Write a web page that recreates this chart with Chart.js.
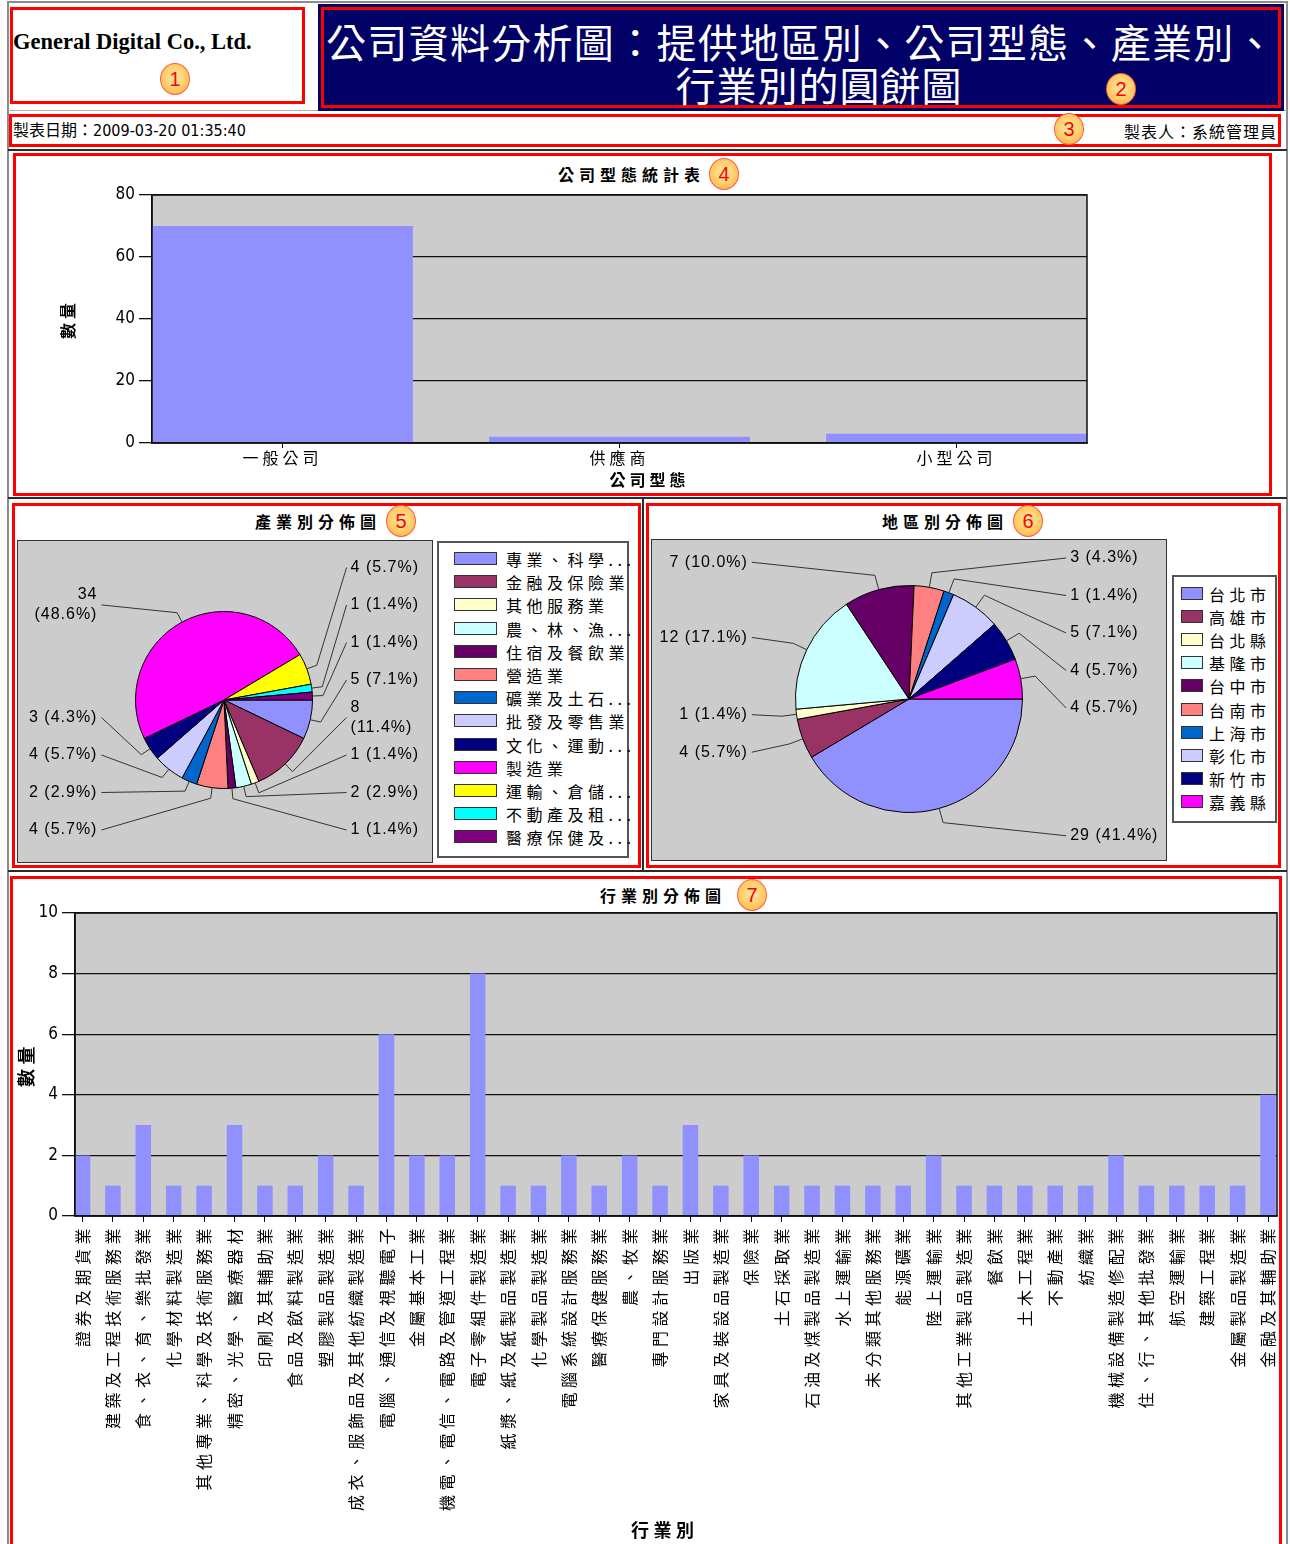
<!DOCTYPE html>
<html><head><meta charset="utf-8">
<script src="https://cdn.jsdelivr.net/npm/chart.js@4.4.0/dist/chart.umd.min.js"></script>
<style>
html,body{margin:0;padding:0;background:#fff;width:1290px;height:1544px;overflow:hidden;}
body{position:relative;font-family:"Noto Sans CJK TC",sans-serif;color:#000;}
.abs{position:absolute;box-sizing:border-box;}
.red{position:absolute;box-sizing:border-box;border:3px solid #ff0000;}
.line{position:absolute;background:#2a2a2a;}
.num{position:absolute;width:30px;height:32px;margin-left:-15px;margin-top:-16px;border-radius:50%;
 background:radial-gradient(circle at 50% 45%,#ffe7a8 0%,#ffcc66 55%,#f7a94a 100%);border:1px solid #ff5a3c;
 color:#ff0000;font:20px "Liberation Sans",sans-serif;text-align:center;line-height:30px;box-sizing:border-box;}
.ttl{position:absolute;font:bold 16px "Noto Sans CJK TC";letter-spacing:5px;white-space:nowrap;line-height:20px;}
.legend{position:absolute;box-sizing:border-box;background:#fff;border:2px solid #555;}
.legend .sw{position:absolute;box-sizing:border-box;border:1px solid #333;}
.legend .tx{position:absolute;font:16px "Noto Sans CJK TC";letter-spacing:4.5px;white-space:nowrap;line-height:20px;}
.piebox{position:absolute;box-sizing:border-box;background:#cccccc;border:1px solid #333;}
canvas{position:absolute;}
</style></head>
<body>
<!-- frame -->
<div class="abs" style="left:7px;top:1px;width:1281px;height:1560px;border:2px solid #8c8c8c;"></div>
<div class="abs" style="left:8px;top:110px;width:1279px;height:1px;background:#b0b0b0;"></div>
<div class="line" style="left:8px;top:149px;width:1279px;height:2px;"></div>
<div class="line" style="left:8px;top:497px;width:1279px;height:2px;"></div>
<div class="line" style="left:8px;top:870px;width:1279px;height:2px;"></div>
<div class="line" style="left:642px;top:498px;width:2px;height:373px;"></div>

<!-- header -->
<div class="red" style="left:10px;top:7px;width:295px;height:97px;"></div>
<div class="abs" style="left:13px;top:29px;font:bold 22.5px 'Liberation Serif',serif;white-space:nowrap;">General Digital Co., Ltd.</div>
<div class="num" style="left:175px;top:79px;">1</div>

<div class="abs" style="left:318px;top:4px;width:966px;height:107px;background:#000066;"></div>
<div class="red" style="left:321px;top:7px;width:960px;height:101px;"></div>
<div class="abs" style="left:321px;top:20px;width:960px;text-align:center;color:#fff;font:40px 'Noto Sans CJK TC';line-height:43px;letter-spacing:1.3px;white-space:nowrap;">公司資料分析圖：提供地區別、公司型態、產業別、</div>
<div class="abs" style="left:339px;top:63px;width:960px;text-align:center;color:#fff;font:40px 'Noto Sans CJK TC';line-height:43px;letter-spacing:1px;white-space:nowrap;">行業別的圓餅圖</div>
<div class="num" style="left:1121px;top:89px;">2</div>

<div class="red" style="left:9px;top:114px;width:1272px;height:33px;"></div>
<div class="abs" style="left:13px;top:121px;font:16px 'Liberation Sans Narrow','DejaVu Sans Condensed','Noto Sans CJK TC';line-height:20px;white-space:nowrap;">製表日期：2009-03-20 01:35:40</div>
<div class="abs" style="left:900px;top:121px;width:377px;text-align:right;font:16px 'Noto Sans CJK TC';line-height:20px;letter-spacing:1px;white-space:nowrap;">製表人：系統管理員</div>
<div class="num" style="left:1069px;top:129px;">3</div>

<!-- chart 4 -->
<div class="red" style="left:13px;top:153px;width:1259px;height:343px;"></div>
<div class="ttl" style="left:558px;top:164px;">公司型態統計表</div>
<div class="num" style="left:724px;top:174px;">4</div>
<canvas id="c4" width="1252" height="309" style="left:16px;top:183px;"></canvas>

<!-- chart 5 -->
<div class="red" style="left:12px;top:503px;width:629px;height:365px;"></div>
<div class="ttl" style="left:255px;top:511px;">產業別分佈圖</div>
<div class="num" style="left:401px;top:521px;">5</div>
<div class="piebox" style="left:17px;top:540px;width:416px;height:323px;"></div>
<canvas id="c5" width="414" height="321" style="left:18px;top:541px;"></canvas>
<div class="legend" id="lg5" style="left:437px;top:541px;width:192px;height:317px;"></div>

<!-- chart 6 -->
<div class="red" style="left:646px;top:503px;width:635px;height:365px;"></div>
<div class="ttl" style="left:882px;top:511px;">地區別分佈圖</div>
<div class="num" style="left:1028px;top:521px;">6</div>
<div class="piebox" style="left:651px;top:539px;width:516px;height:322px;"></div>
<canvas id="c6" width="514" height="320" style="left:652px;top:540px;"></canvas>
<div class="legend" id="lg6" style="left:1172px;top:575px;width:105px;height:248px;"></div>

<!-- chart 7 -->
<div class="red" style="left:10px;top:876px;width:1272px;height:700px;"></div>
<div class="ttl" style="left:600px;top:885px;">行業別分佈圖</div>
<div class="num" style="left:752px;top:895px;">7</div>
<canvas id="c7" width="1266" height="643" style="left:14px;top:901px;"></canvas>

<script>
// ---------------- data ----------------
const companyTypes = ['一般公司', '供應商', '小型公司'];
const companyCounts = [70, 2, 3];

const industryNames = ['專業、科學...', '金融及保險業', '其他服務業', '農、林、漁...', '住宿及餐飲業', '營造業', '礦業及土石...', '批發及零售業', '文化、運動...', '製造業', '運輸、倉儲...', '不動產及租...', '醫療保健及...'];
const industryCounts = [5, 8, 1, 2, 1, 4, 2, 4, 3, 34, 4, 1, 1];

const regionNames = ['台北市', '高雄市', '台北縣', '基隆市', '台中市', '台南市', '上海市', '彰化市', '新竹市', '嘉義縣'];
const regionCounts = [29, 4, 1, 12, 7, 3, 1, 5, 4, 4];

const tradeNames = ['證券及期貨業', '建築及工程技術服務業', '食、衣、育、樂批發業', '化學材料製造業', '其他專業、科學及技術服務業', '精密、光學、醫療器材', '印刷及其輔助業', '食品及飲料製造業', '塑膠製品製造業', '成衣、服飾品及其他紡織製造業', '電腦、通信及視聽電子', '金屬基本工業', '機電、電信、電路及管道工程業', '電子零組件製造業', '紙漿、紙及紙製品製造業', '化學製品製造業', '電腦系統設計服務業', '醫療保健服務業', '農、牧業', '專門設計服務業', '出版業', '家具及裝設品製造業', '保險業', '土石採取業', '石油及煤製品製造業', '水上運輸業', '未分類其他服務業', '能源礦業', '陸上運輸業', '其他工業製品製造業', '餐飲業', '土木工程業', '不動產業', '紡織業', '機械設備製造修配業', '住、行、其他批發業', '航空運輸業', '建築工程業', '金屬製品製造業', '金融及其輔助業'];
const tradeCounts = [2, 1, 3, 1, 1, 3, 1, 1, 2, 1, 6, 2, 2, 8, 1, 1, 2, 1, 2, 1, 3, 1, 2, 1, 1, 1, 1, 1, 2, 1, 1, 1, 1, 1, 2, 1, 1, 1, 1, 4];

const barColor = '#9090FF';
const pieColors = ['#9090FF', '#993366', '#FFFFCC', '#CCFFFF', '#660066', '#FF8080', '#0066CC', '#CCCCFF', '#000080', '#FF00FF', '#FFFF00', '#00FFFF', '#800080'];

// ---------------- common ----------------
Chart.defaults.animation = false;
Chart.defaults.color = '#000';
Chart.defaults.font.family = '"Liberation Sans Narrow","DejaVu Sans Condensed","Noto Sans CJK TC",sans-serif';
Chart.defaults.plugins.legend.display = false;
Chart.defaults.plugins.tooltip.enabled = false;

const cjk = '"Noto Sans CJK TC",sans-serif';

// grey plot background + frame; CJK text in the chart gets letter spacing
const plotFrame = {
  id: 'plotFrame',
  beforeDraw(chart, args, o) {
    const {ctx, chartArea: a} = chart;
    ctx.save();
    ctx.fillStyle = '#CCCCCC';
    ctx.fillRect(a.left, a.top, a.width, a.height);
    ctx.restore();
    ctx.letterSpacing = o.spacing || '0px';
  },
  afterDraw(chart) {
    const {ctx, chartArea: a} = chart;
    ctx.letterSpacing = '0px';
    ctx.save();
    ctx.strokeStyle = '#111';
    ctx.lineWidth = 1.5;
    ctx.strokeRect(a.left, a.top, a.width, a.height);
    ctx.restore();
  }
};

// numeric tick labels are drawn without the extra letter spacing
const plainLabels = s => {
  if (s._plain) return;
  s._plain = true;
  const draw = s.drawLabels.bind(s);
  s.drawLabels = area => {
    const c = s.ctx;
    const prev = c.letterSpacing;
    c.letterSpacing = '0px';
    draw(area);
    c.letterSpacing = prev;
  };
};

const pieLabels = {
  id: 'pieLabels',
  afterDatasetsDraw(chart, args, o) {
    const ctx = chart.ctx;
    const meta = chart.getDatasetMeta(0);
    const data = chart.data.datasets[0].data;
    const total = data.reduce((a, b) => a + b, 0);
    const left = [], right = [];
    meta.data.forEach((arc, i) => {
      const p = arc.getProps(['x', 'y', 'startAngle', 'endAngle', 'outerRadius'], true);
      const mid = (p.startAngle + p.endAngle) / 2;
      const c = Math.cos(mid), s = Math.sin(mid);
      const text = data[i] + ' (' + (data[i] / total * 100).toFixed(1) + '%)';
      const lines = text.length >= o.wrapLen ? text.split(' ') : [text];
      const item = {x: p.x, y: p.y, r: p.outerRadius, c, s, lines, want: p.y + s * p.outerRadius * o.k};
      (c >= 0 ? right : left).push(item);
    });
    const lo = o.top, hi = chart.height - o.bottom;
    [left, right].forEach(list => {
      list.sort((a, b) => a.want - b.want);
      const ys = list.map(it => it.want);
      for (let n = 0; n < 500; n++) {
        for (let i = 1; i < ys.length; i++) {
          const d = ys[i] - ys[i - 1];
          if (d < o.gap) { const sh = (o.gap - d) / 2; ys[i - 1] -= sh; ys[i] += sh; }
        }
        for (let i = 0; i < ys.length; i++) ys[i] = Math.min(Math.max(ys[i], lo), hi);
      }
      list.forEach((it, i) => { it.ly = ys[i]; });
    });
    ctx.save();
    ctx.letterSpacing = o.spacing;
    ctx.font = o.font;
    ctx.fillStyle = '#000';
    ctx.strokeStyle = '#333';
    ctx.lineWidth = 1;
    ctx.textBaseline = 'middle';
    left.concat(right).forEach(it => {
      const isRight = it.c >= 0;
      const lx = it.x + (isRight ? 1 : -1) * it.r * o.labelR;
      const tx = lx + (isRight ? -4 : 4);
      ctx.beginPath();
      ctx.moveTo(it.x + it.c * it.r, it.y + it.s * it.r);
      ctx.lineTo(it.x + it.c * it.r * o.elbow, it.y + it.s * it.r * o.elbow);
      ctx.lineTo(tx, it.ly);
      ctx.stroke();
      ctx.textAlign = isRight ? 'left' : 'right';
      it.lines.forEach((ln, j) => {
        ctx.fillText(ln, lx, it.ly + (j - (it.lines.length - 1) / 2) * 20);
      });
    });
    ctx.restore();
  }
};

function buildLegend(id, names, colors, g) {
  const box = document.getElementById(id);
  names.forEach((n, i) => {
    const cy = g.first + i * g.step;
    const sw = document.createElement('div');
    sw.className = 'sw';
    sw.style.cssText = `left:${g.swLeft}px;top:${cy - 7}px;width:${g.swW}px;height:13px;background:${colors[i]};`;
    box.appendChild(sw);
    const tx = document.createElement('div');
    tx.className = 'tx';
    tx.style.cssText = `left:${g.txLeft}px;top:${cy - 10}px;`;
    tx.textContent = n;
    box.appendChild(tx);
  });
}

// ---------------- chart 4: company types ----------------
new Chart(document.getElementById('c4'), {
  type: 'bar',
  data: {datasets: [{
    data: companyCounts.map((v, i) => ({x: i, y: v})),
    backgroundColor: barColor, borderWidth: 0,
    categoryPercentage: 1, barPercentage: 0.774
  }]},
  options: {
    responsive: false,
    layout: {padding: {left: 41, right: 181, top: 12, bottom: 0}},
    plugins: {plotFrame: {spacing: '4px'}},
    scales: {
      x: {
        type: 'linear', min: -0.387, max: 2.387, offset: false,
        afterBuildTicks: s => { s.ticks = companyTypes.map((_, i) => ({value: i})); },
        afterFit: s => { s.height = 49; s.paddingLeft = 0; s.paddingRight = 0; },
        grid: {offset: false, drawOnChartArea: false, drawTicks: true, tickLength: 5, color: '#000'},
        border: {color: '#000', width: 1.5},
        ticks: {autoSkip: false, maxRotation: 0, padding: 0, font: {size: 16, family: cjk}, callback: v => companyTypes[v] ?? ''},
        title: {display: true, text: '\u3000\u3000\u3000公司型態', font: {size: 16, weight: 'bold', family: cjk}, padding: {top: 0, bottom: 2}}
      },
      y: {
        min: 0, max: 80,
        afterUpdate: plainLabels,
        afterFit: s => { s.width = 95; s.paddingTop = 0; s.paddingBottom = 0; },
        ticks: {stepSize: 20, padding: 4, font: {size: 17}},
        grid: {color: '#111', lineWidth: 1.3, tickLength: 13},
        border: {color: '#000', width: 1.5},
        title: {display: true, text: '數量', font: {size: 16, weight: 'bold', family: cjk}, padding: {top: 1, bottom: 0}}
      }
    }
  },
  plugins: [plotFrame]
});

// ---------------- chart 5: industry pie ----------------
new Chart(document.getElementById('c5'), {
  type: 'pie',
  data: {labels: industryNames, datasets: [{data: industryCounts, backgroundColor: pieColors.slice(0, industryCounts.length), borderColor: '#000', borderWidth: 1}]},
  options: {
    responsive: false, rotation: 90,
    layout: {padding: {left: 117, right: 119, top: 70, bottom: 73}},
    plugins: {pieLabels: {k: 1.22, gap: 37.5, top: 26, bottom: 32, labelR: 1.43, elbow: 1.12, wrapLen: 9, font: '16px "Liberation Sans",sans-serif', spacing: '1px'}}
  },
  plugins: [pieLabels]
});
buildLegend('lg5', industryNames, pieColors, {first: 16, step: 23.2, swLeft: 15, swW: 43, txLeft: 67});

// ---------------- chart 6: region pie ----------------
new Chart(document.getElementById('c6'), {
  type: 'pie',
  data: {labels: regionNames, datasets: [{data: regionCounts, backgroundColor: pieColors.slice(0, regionCounts.length), borderColor: '#000', borderWidth: 1}]},
  options: {
    responsive: false, rotation: 90,
    layout: {padding: {left: 143, right: 143, top: 45, bottom: 47}},
    plugins: {pieLabels: {k: 1.25, gap: 37.5, top: 18, bottom: 20, labelR: 1.42, elbow: 1.13, wrapLen: 99, font: '16px "Liberation Sans",sans-serif', spacing: '1px'}}
  },
  plugins: [pieLabels]
});
buildLegend('lg6', regionNames, pieColors, {first: 17, step: 23.1, swLeft: 7, swW: 22, txLeft: 35});

// ---------------- chart 7: trades ----------------
new Chart(document.getElementById('c7'), {
  type: 'bar',
  data: {datasets: [{
    data: tradeCounts.map((v, i) => ({x: i, y: v})),
    backgroundColor: barColor, borderWidth: 0,
    categoryPercentage: 1, barPercentage: 0.51
  }]},
  options: {
    responsive: false,
    layout: {padding: {left: 0, right: 3, top: 12, bottom: 0}},
    plugins: {plotFrame: {spacing: '4.5px'}},
    scales: {
      x: {
        type: 'linear', min: -0.247, max: 39.296, offset: false,
        afterBuildTicks: s => { s.ticks = tradeNames.map((_, i) => ({value: i})); },
        afterFit: s => { s.height = 328; s.paddingLeft = 0; s.paddingRight = 0; },
        grid: {offset: false, drawOnChartArea: false, drawTicks: true, tickLength: 6, color: '#000'},
        border: {color: '#000', width: 1.5},
        ticks: {autoSkip: false, minRotation: 90, maxRotation: 90, padding: 2, font: {size: 16, family: cjk}, callback: v => tradeNames[v] ?? ''},
        title: {display: true, text: '行業別\u3000', font: {size: 18, weight: 'bold', family: cjk}, padding: {top: 0, bottom: 3}}
      },
      y: {
        min: 0, max: 10,
        afterUpdate: plainLabels,
        afterFit: s => { s.width = 61; s.paddingTop = 0; s.paddingBottom = 0; },
        ticks: {stepSize: 2, padding: 4, font: {size: 17}},
        grid: {color: '#111', lineWidth: 1.3, tickLength: 13},
        border: {color: '#000', width: 1.5},
        title: {display: true, text: '數量', font: {size: 18, weight: 'bold', family: cjk}, padding: {top: 1, bottom: 0}}
      }
    }
  },
  plugins: [plotFrame]
});
</script>
</body></html>
